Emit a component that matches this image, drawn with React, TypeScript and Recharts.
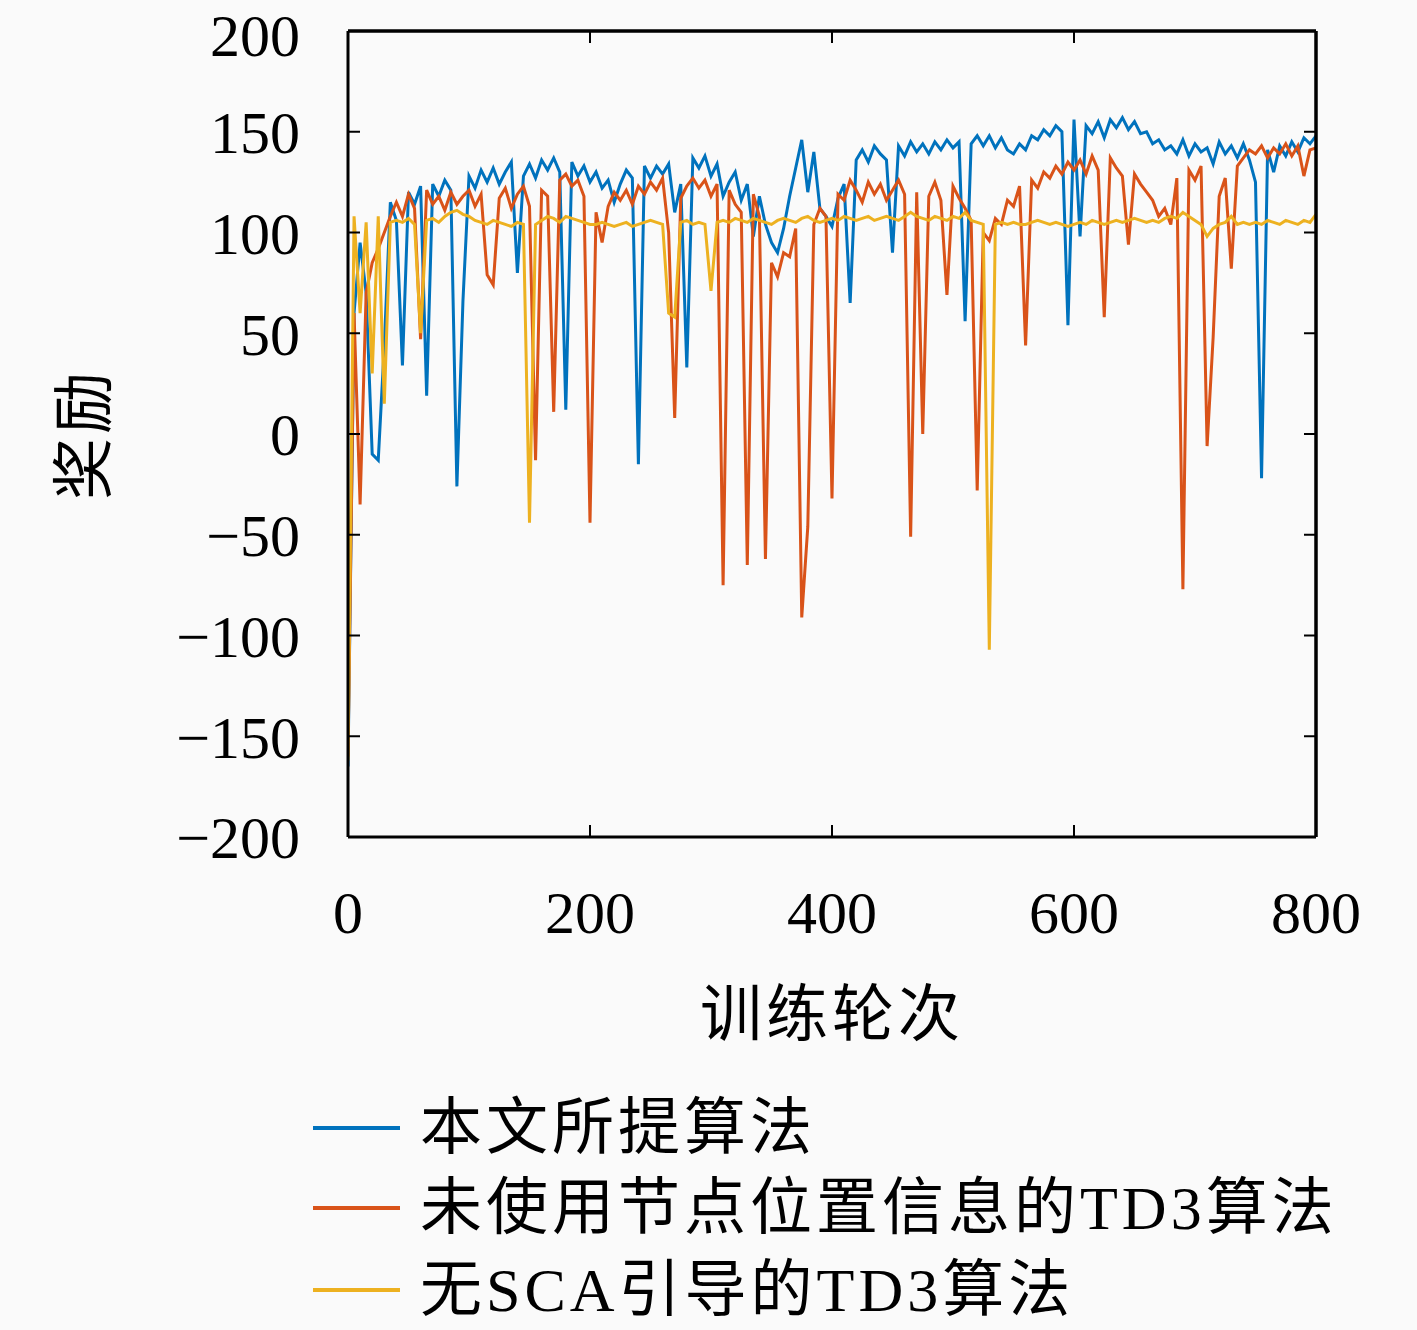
import React from "react";
import { Line, LineChart, ReferenceLine, XAxis, YAxis } from "recharts";

// episodes sampled every 5 training rounds
const episodes = Array.from({ length: 161 }, (_, i) => i * 5);

const proposedReward = [
  -165, 60, 95, 70, -10, -13, 44, 115, 106, 34,
  120, 114, 123, 19, 124, 118, 126, 121, -26, 66,
  128, 122, 131, 125, 132, 124, 130, 135, 80, 128,
  134, 127, 136, 131, 137, 130, 12, 135, 128, 133,
  125, 130, 122, 126, 115, 124, 131, 127, -15, 133,
  127, 133, 129, 134, 110, 124, 33, 137, 132, 138,
  128, 134, 118, 125, 130, 116, 124, 98, 118, 104,
  95, 90, 102, 118, 132, 146, 120, 140, 112, 108,
  103, 117, 124, 65, 136, 141, 135, 143, 139, 136,
  90, 143, 138, 145, 140, 144, 139, 145, 141, 146,
  142, 145, 56, 144, 148, 143, 148, 142, 147, 141,
  139, 144, 141, 148, 146, 151, 148, 153, 150, 54,
  156, 98, 153, 149, 155, 147, 156, 152, 157, 151,
  155, 149, 150, 144, 146, 141, 143, 139, 146, 138,
  144, 140, 142, 134, 145, 139, 143, 137, 144, 136,
  125, -22, 141, 130, 143, 138, 145, 140, 147, 144,
  148,
];

const noPositionReward = [
  -160, 60, -35, 70, 85, 92, 100, 108, 115, 108,
  119, 112, 47, 121, 114, 118, 111, 120, 114, 118,
  121, 113, 119, 79, 74, 117, 122, 112, 119, 123,
  113, -13, 121, 118, 11, 126, 129, 123, 126, 118,
  -44, 110, 95, 113, 120, 116, 121, 114, 123, 119,
  125, 121, 127, 100, 8, 117, 123, 127, 122, 126,
  118, 124, -75, 121, 114, 110, -65, 119, 108, -62,
  85, 78, 90, 88, 102, -91, -46, 104, 112, 108,
  -32, 119, 116, 126, 121, 115, 125, 119, 124, 116,
  121, 126, 119, -51, 120, 0, 118, 125, 116, 69,
  123, 117, 112, 106, -28, 100, 96, 107, 104, 116,
  113, 123, 44, 126, 122, 130, 127, 133, 129, 135,
  131, 136, 129, 138, 131, 58, 137, 132, 128, 94,
  129, 124, 120, 116, 108, 112, 104, 127, -77, 131,
  126, 133, -6, 48, 118, 127, 82, 133, 137, 141,
  139, 143, 137, 142, 139, 144, 138, 143, 128, 141,
  142,
];

const noScaReward = [
  -162, 108, 60, 105, 30, 108, 15, 105, 106, 105,
  107, 104, 50, 106, 107, 105, 108, 110, 111, 109,
  108, 106, 105, 104, 106, 105, 104, 103, 105, 104,
  -44, 104, 106, 108, 107, 105, 108, 107, 106, 105,
  104, 104, 105, 104, 103, 104, 105, 103, 104, 105,
  106, 105, 104, 60, 58, 105, 106, 104, 105, 104,
  71, 105, 106, 105, 107, 106, 105, 107, 106, 105,
  104, 106, 107, 106, 105, 107, 108, 106, 105, 106,
  107, 106, 108, 107, 106, 107, 108, 106, 107, 108,
  107, 106, 108, 110, 108, 107, 106, 108, 107, 106,
  108, 107, 110, 106, 105, 104, -107, 104, 105, 104,
  105, 104, 104, 105, 106, 105, 104, 105, 104, 103,
  104, 105, 104, 106, 105, 104, 105, 106, 105, 106,
  107, 106, 105, 106, 105, 107, 108, 107, 110, 108,
  106, 104, 98, 102, 104, 105, 108, 104, 105, 104,
  105, 104, 106, 105, 104, 106, 105, 104, 106, 105,
  109,
];

const xTicks = [0, 200, 400, 600, 800];
const yTicks = [-200, -150, -100, -50, 0, 50, 100, 150, 200];

const seriesNames = ["本文所提算法", "未使用节点位置信息的TD3算法", "无SCA引导的TD3算法"];
const seriesColors = ["#0072BD", "#D95319", "#EDB120"];

const data = episodes.map((ep, i) => ({
  ep,
  proposed: proposedReward[i],
  noPosition: noPositionReward[i],
  noSca: noScaReward[i],
}));

const numFont = "'Liberation Serif', 'DejaVu Serif', serif";
const cjkFont = "'Liberation Serif', 'Noto Sans CJK SC', serif";

const fmt = (v: number) => (v < 0 ? "\u2212" + Math.abs(v) : String(v));

const tickStyle = { fill: "#000", fontSize: 60, fontFamily: numFont };
const axisLine = { stroke: "#000", strokeWidth: 3 };
const tickLine = { stroke: "#000", strokeWidth: 2 };

// mirrored axes keep their tick marks but show no labels
const NoLabel = () => <g />;

const styles = {
  page: {
    position: "relative",
    width: 1417,
    height: 1330,
    background: "#fafafa",
  } as React.CSSProperties,
  title: {
    position: "absolute",
    fontFamily: cjkFont,
    fontSize: 62,
    letterSpacing: 4,
    lineHeight: 1,
    whiteSpace: "nowrap",
    color: "#000",
  } as React.CSSProperties,
  legendRow: {
    position: "absolute",
    left: 313,
    display: "flex",
    alignItems: "center",
    height: 70,
  } as React.CSSProperties,
};

export default function App() {
  const rowY = [1128, 1208, 1290];

  return (
    <div style={styles.page}>
      <style>{`body{margin:0;background:#fafafa}`}</style>
      <LineChart
        width={1417}
        height={1330}
        data={data}
        margin={{ top: 11, right: 81, left: 0, bottom: 0 }}
      >
        <XAxis
          dataKey="ep"
          type="number"
          domain={[0, 800]}
          ticks={xTicks}
          allowDataOverflow
          height={493}
          tick={tickStyle}
          tickSize={-12}
          tickMargin={65}
          axisLine={axisLine}
          tickLine={tickLine}
        />
        <XAxis
          xAxisId="top"
          dataKey="ep"
          orientation="top"
          type="number"
          domain={[0, 800]}
          ticks={xTicks}
          allowDataOverflow
          height={20}
          tick={NoLabel}
          tickSize={-12}
          axisLine={axisLine}
          tickLine={tickLine}
        />
        <YAxis
          type="number"
          domain={[-200, 200]}
          ticks={yTicks}
          allowDataOverflow
          width={348}
          tick={tickStyle}
          tickFormatter={fmt}
          tickSize={-12}
          tickMargin={60}
          axisLine={axisLine}
          tickLine={tickLine}
        />
        <YAxis
          yAxisId="right"
          orientation="right"
          type="number"
          domain={[-200, 200]}
          ticks={yTicks}
          allowDataOverflow
          width={20}
          tick={NoLabel}
          tickSize={-12}
          axisLine={axisLine}
          tickLine={tickLine}
        />
        <Line
          dataKey="proposed"
          type="linear"
          stroke={seriesColors[0]}
          strokeWidth={3}
          dot={false}
          activeDot={false}
          isAnimationActive={false}
        />
        <Line
          dataKey="noPosition"
          type="linear"
          stroke={seriesColors[1]}
          strokeWidth={3}
          dot={false}
          activeDot={false}
          isAnimationActive={false}
        />
        {/* same domains, so the mirrored top/right axes give the same scale */}
        <Line
          dataKey="noSca"
          xAxisId="top"
          yAxisId="right"
          type="linear"
          stroke={seriesColors[2]}
          strokeWidth={3}
          dot={false}
          activeDot={false}
          isAnimationActive={false}
        />
        <ReferenceLine y={200} stroke="#000" strokeWidth={3} />
        <ReferenceLine x={800} stroke="#000" strokeWidth={3} />
      </LineChart>

      <div style={{ ...styles.title, left: 832, top: 1015, transform: "translate(-50%, -50%)" }}>
        训练轮次
      </div>
      <div
        style={{
          ...styles.title,
          left: 85,
          top: 434,
          transform: "translate(-50%, -50%) rotate(-90deg)",
        }}
      >
        奖励
      </div>

      {seriesNames.map((name, i) => (
        <div key={name} style={{ ...styles.legendRow, top: rowY[i] - 35 }}>
          <div style={{ width: 87, height: 4, background: seriesColors[i] }} />
          <div style={{ ...styles.title, position: "static", marginLeft: 20 }}>{name}</div>
        </div>
      ))}
    </div>
  );
}
